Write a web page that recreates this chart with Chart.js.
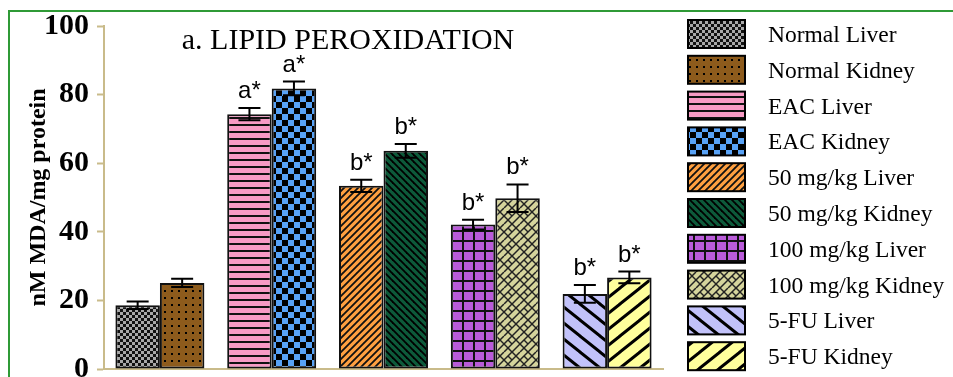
<!DOCTYPE html>
<html>
<head>
<meta charset="utf-8">
<script src="https://cdn.jsdelivr.net/npm/chart.js@4.4.1/dist/chart.umd.min.js"></script>
<style>
  html, body { margin: 0; padding: 0; background: #fff; overflow: hidden; }
  #wrap { position: relative; width: 953px; height: 377px; overflow: hidden; }
  #frame { position: absolute; left: 8px; top: 10px; width: 1200px; height: 600px;
           border: 2px solid #2f9a36; box-sizing: border-box; }
  #c { position: absolute; left: 0; top: 0; }
</style>
</head>
<body>
<div id="wrap">
  <div id="frame"></div>
  <canvas id="c" width="953" height="377"></canvas>
</div>
<script>
// Treatment groups and MDA levels (nM MDA / mg protein), mean and error
const groups = ['Normal', 'EAC', '50 mg/kg', '100 mg/kg', '5-FU'];
const liverValues  = [18.6, 74.3, 53.4, 42.1, 21.9];
const kidneyValues = [25.1, 81.8, 63.6, 49.8, 26.7];
const liverErrors  = [1.1, 1.8, 1.8, 1.4, 2.6];
const kidneyErrors = [1.2, 2.0, 2.0, 4.0, 1.7];
const liverMarks   = ['', 'a*', 'b*', 'b*', 'b*'];
const kidneyMarks  = ['', 'a*', 'b*', 'b*', 'b*'];
const legendLabels = ['Normal Liver', 'Normal Kidney', 'EAC Liver', 'EAC Kidney',
  '50 mg/kg Liver', '50 mg/kg Kidney', '100 mg/kg Liver', '100 mg/kg Kidney',
  '5-FU Liver', '5-FU Kidney'];
const yTicks = [0, 20, 40, 60, 80, 100];
const titleText = 'a. LIPID PEROXIDATION';

const canvas = document.getElementById('c');
const ctx = canvas.getContext('2d');

// ---- fill patterns ----
function tile(w, h, draw) {
  const t = document.createElement('canvas');
  t.width = w; t.height = h;
  const g = t.getContext('2d');
  draw(g, w, h);
  return ctx.createPattern(t, 'repeat');
}
function diag(g, w, h, rising, lw, color) {
  g.strokeStyle = color; g.lineWidth = lw; g.lineCap = 'square';
  for (let k = -1; k <= 1; k++) {
    g.beginPath();
    if (rising) { g.moveTo(k * w, h); g.lineTo(k * w + w, 0); }
    else { g.moveTo(k * w, 0); g.lineTo(k * w + w, h); }
    g.stroke();
  }
}
const patterns = [
  // Normal Liver: grey / black checks
  tile(6, 6, (g) => { g.fillStyle = '#111'; g.fillRect(0, 0, 6, 6);
    g.fillStyle = '#a8a8a8'; g.fillRect(0, 0, 3, 3); g.fillRect(3, 3, 3, 3); }),
  // Normal Kidney: brown with dots
  tile(7, 7, (g) => { g.fillStyle = '#8d5b1c'; g.fillRect(0, 0, 7, 7);
    g.fillStyle = '#000'; g.fillRect(3, 3, 2, 2); }),
  // EAC Liver: pink with horizontal rules
  tile(7, 7, (g) => { g.fillStyle = '#f79ac4'; g.fillRect(0, 0, 7, 7);
    g.fillStyle = '#111'; g.fillRect(0, 5, 7, 2); }),
  // EAC Kidney: blue / black checks
  tile(12, 12, (g) => { g.fillStyle = '#000'; g.fillRect(0, 0, 12, 12);
    g.fillStyle = '#58a2f6'; g.fillRect(0, 0, 6, 6); g.fillRect(6, 6, 6, 6); }),
  // 50 mg/kg Liver: orange with rising hatch
  tile(7, 7, (g, w, h) => { g.fillStyle = '#ffa040'; g.fillRect(0, 0, w, h);
    diag(g, w, h, true, 1.8, '#111'); }),
  // 50 mg/kg Kidney: dark green with falling hatch
  tile(7, 7, (g, w, h) => { g.fillStyle = '#0d5a3a'; g.fillRect(0, 0, w, h);
    diag(g, w, h, false, 1.8, '#000'); }),
  // 100 mg/kg Liver: purple grid
  tile(11, 10, (g) => { g.fillStyle = '#b95bd9'; g.fillRect(0, 0, 11, 10);
    g.fillStyle = '#111'; g.fillRect(0, 0, 2, 10); g.fillRect(0, 0, 11, 2); }),
  // 100 mg/kg Kidney: khaki weave
  tile(16, 16, (g, w, h) => { g.fillStyle = '#d5d49c'; g.fillRect(0, 0, w, h);
    g.strokeStyle = '#222'; g.lineWidth = 1.5;
    for (const o of [-16, -8, 0, 8, 16]) { g.beginPath(); g.moveTo(o, 16); g.lineTo(o + 16, 0); g.stroke(); }
    const segs = [[4, 4, 8, 8], [12, 4, 16, 8], [-4, 4, 0, 8], [0, 0, 4, 4], [16, 0, 20, 4], [8, 8, 12, 12], [12, 12, 16, 16], [-4, 12, 0, 16]];
    for (const s of segs) { g.beginPath(); g.moveTo(s[0], s[1]); g.lineTo(s[2], s[3]); g.stroke(); }
  }),
  // 5-FU Liver: lavender with wide falling stripes
  tile(20, 16, (g, w, h) => { g.fillStyle = '#c2c2fa'; g.fillRect(0, 0, w, h);
    diag(g, w, h, false, 3, '#000'); }),
  // 5-FU Kidney: yellow with wide rising stripes
  tile(20, 16, (g, w, h) => { g.fillStyle = '#ffff9c'; g.fillRect(0, 0, w, h);
    diag(g, w, h, true, 3, '#000'); })
];
const liverFills  = [0, 2, 4, 6, 8].map(i => patterns[i]);
const kidneyFills = [1, 3, 5, 7, 9].map(i => patterns[i]);

const errors = [liverErrors, kidneyErrors];
const marks = [liverMarks, kidneyMarks];

// error bars with caps, plus significance letters
const errorBarPlugin = {
  id: 'errorBars',
  afterDatasetsDraw(chart) {
    const c = chart.ctx, y = chart.scales.y;
    c.save();
    chart.data.datasets.forEach((ds, di) => {
      const meta = chart.getDatasetMeta(di);
      meta.data.forEach((bar, i) => {
        const v = ds.data[i], e = errors[di][i];
        const top = y.getPixelForValue(v + e), bot = y.getPixelForValue(v - e);
        c.strokeStyle = '#000'; c.lineWidth = 2;
        c.beginPath();
        c.moveTo(bar.x, top); c.lineTo(bar.x, bot);
        c.moveTo(bar.x - 11, top); c.lineTo(bar.x + 11, top);
        c.moveTo(bar.x - 11, bot); c.lineTo(bar.x + 11, bot);
        c.stroke();
        const m = marks[di][i];
        if (m) {
          c.fillStyle = '#000';
          c.font = '24px "Liberation Sans", Arial, sans-serif';
          c.textAlign = 'center'; c.textBaseline = 'alphabetic';
          c.fillText(m, bar.x, top - 10);
        }
      });
    });
    c.restore();
  }
};

// chart title inside the plot and the pattern legend on the right
const decorPlugin = {
  id: 'decor',
  afterDraw(chart) {
    const c = chart.ctx;
    c.save();
    c.fillStyle = '#000';
    c.font = '30px "Liberation Serif", "Times New Roman", serif';
    c.textAlign = 'center'; c.textBaseline = 'alphabetic';
    c.fillText(titleText, 348, 49);

    c.font = '23.5px "Liberation Serif", "Times New Roman", serif';
    c.textAlign = 'left';
    legendLabels.forEach((lab, i) => {
      const cy = 34 + i * 35.8;
      c.fillStyle = patterns[i];
      c.fillRect(688, cy - 14, 57, 28);
      c.strokeStyle = '#000'; c.lineWidth = 2;
      c.strokeRect(688, cy - 14, 57, 28);
      c.fillStyle = '#000';
      c.fillText(lab, 768, cy + 8);
    });
    c.restore();
  }
};

const axisColor = '#c9bb8a';

new Chart(ctx, {
  type: 'bar',
  data: {
    labels: groups,
    datasets: [
      { label: 'Liver', data: liverValues, backgroundColor: liverFills,
        borderColor: '#111', borderWidth: 2, borderSkipped: false },
      { label: 'Kidney', data: kidneyValues, backgroundColor: kidneyFills,
        borderColor: '#111', borderWidth: 2, borderSkipped: false }
    ]
  },
  options: {
    responsive: false,
    animation: false,
    devicePixelRatio: 1,
    layout: { padding: { left: 10, right: 290, top: 26, bottom: 6 } },
    datasets: { bar: { categoryPercentage: 0.796, barPercentage: 1.0 } },
    plugins: { legend: { display: false }, tooltip: { enabled: false }, title: { display: false } },
    scales: {
      x: {
        ticks: { display: false },
        grid: { display: false, drawTicks: false },
        border: { color: axisColor, width: 2 },
        afterFit: (s) => { s.height = 2; s.paddingLeft = 0; s.paddingRight = 0; }
      },
      y: {
        min: 0, max: 100,
        afterBuildTicks: (s) => { s.ticks = yTicks.map(v => ({ value: v })); },
        ticks: { color: '#000', padding: 8,
          font: { family: '"Liberation Serif", "Times New Roman", serif', size: 30, weight: 'bold' } },
        grid: { drawOnChartArea: false, drawTicks: true, tickLength: 7, color: axisColor, tickWidth: 2 },
        border: { color: axisColor, width: 2 },
        title: { display: true, text: 'nM MDA/mg protein', color: '#000',
          font: { family: '"Liberation Serif", "Times New Roman", serif', size: 24, weight: 'bold' },
          padding: { top: 14, bottom: 0 } },
        afterFit: (s) => { s.width = 94; s.paddingTop = 0; s.paddingBottom = 0; }
      }
    }
  },
  plugins: [errorBarPlugin, decorPlugin]
});
</script>
</body>
</html>
